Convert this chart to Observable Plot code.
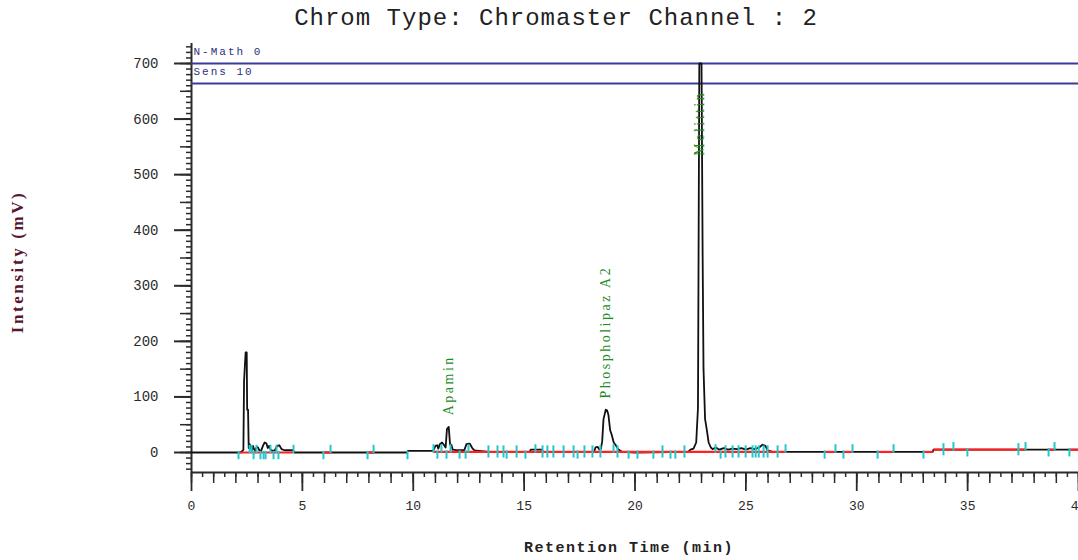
<!DOCTYPE html>
<html>
<head>
<meta charset="utf-8">
<script src="https://cdn.jsdelivr.net/npm/d3@7"></script>
<script src="https://cdn.jsdelivr.net/npm/@observablehq/plot@0.6"></script>
<style>
  body { margin: 0; background: #fff; }
  #wrap { position: relative; width: 1078px; height: 560px; overflow: hidden; background: #fff; }
  #title { position: absolute; top: 5px; left: 0; width: 1112px; text-align: center;
           font: 24px "Liberation Mono", "DejaVu Sans Mono", monospace; letter-spacing: 1px; color: #222; white-space: pre; }
  #ylab { position: absolute; left: 18px; top: 262px; transform: translate(-50%, -50%) rotate(-90deg);
          font: bold 17px "Liberation Serif", serif; letter-spacing: 2.6px; color: #561630; white-space: pre; }
  #xlab { position: absolute; left: 629px; top: 548px; transform: translate(-50%, -50%);
          font: bold 15px "Liberation Mono", monospace; letter-spacing: 1.5px; color: #222; white-space: pre; }
  #chart { position: absolute; left: 0; top: 0; }
</style>
</head>
<body>
<div id="wrap">
  <div id="chart"></div>
  <div id="title">Chrom Type: Chromaster Channel : 2</div>
  <div id="ylab">Intensity (mV)</div>
  <div id="xlab">Retention Time (min)</div>
</div>
<script>
// ---- Data ----
// Chromatogram signal (retention time in min, intensity in mV)
const sigTime = [0, 2.20, 2.30, 2.34, 2.37, 2.44, 2.49, 2.51, 2.55, 2.58, 2.62, 2.68, 2.72, 2.77, 2.82, 2.88, 2.94, 3.00, 3.06, 3.14,
  3.22, 3.30, 3.38, 3.44, 3.50, 3.57, 3.66, 3.76, 3.86, 3.96, 4.06, 4.20, 4.58, 4.64, 9.72, 9.76, 10.90, 11.00, 11.08, 11.13,
  11.20, 11.30, 11.38, 11.46, 11.52, 11.60, 11.66, 11.72, 11.78, 12.00, 12.30, 12.40, 12.55, 12.66, 12.76, 13.40, 15.25, 15.30,
  15.80, 15.86, 18.15, 18.22, 18.32, 18.40, 18.46, 18.52, 18.58, 18.68, 18.74, 18.80, 18.88, 18.95, 19.04, 19.12, 19.24, 19.42,
  20.00, 22.40, 22.50, 22.64, 22.76, 22.84, 22.90, 23.00, 23.05, 23.09, 23.16, 23.23, 23.32, 23.42, 23.50, 23.65, 23.80, 24.00,
  24.20, 24.40, 24.60, 24.80, 25.00, 25.20, 25.40, 25.60, 25.75, 25.88, 25.98, 26.20, 33.42, 33.46, 40];
const sigValue = [0, 0, 3, 5, 128, 180, 180, 77, 77, 8, 15, 8, 4, 12, 6, 3, 10, 9, 4, 3,
  12, 18, 16, 8, 12, 5, 3, 4, 12, 13, 6, 4, 4, 0, 0, 3, 3, 12, 13, 7,
  15, 18, 14, 9, 42, 46, 14, 14, 5, 4, 4, 15, 16, 8, 4, 1, 1, 5,
  5, 1, 1, 9, 10, 5, 6, 20, 60, 77, 76, 68, 40, 32, 18, 14, 6, 1,
  0, 1, 5, 7, 18, 80, 700, 700, 355, 150, 60, 43, 18, 9, 6, 9, 5, 8,
  5, 7, 6, 8, 5, 8, 6, 9, 14, 12, 4, 1, 1, 5, 5];

// Integration baselines (red)
const baseStart = [2.10, 5.90, 7.90, 10.90, 28.55, 29.40, 30.94, 33.01, 33.46, 38.65, 39.59];
const baseEnd   = [4.60, 6.30, 8.25, 26.80, 29.04, 29.81, 31.66, 33.45, 37.61, 38.92, 40.00];
const baseValue = [0, 0, 0, 1, 1, 1, 1, 1, 5, 5, 5];

// Peak start / end event marks (cyan): time and side (1 above, -1 below, 0 across)
const markTime = [2.12, 2.62, 2.71, 2.80, 2.93, 3.11, 3.25, 3.34, 3.56, 3.70, 3.83, 3.92, 4.60, 5.95, 6.27, 7.94, 8.21, 9.74,
  10.91, 11.09, 11.27, 11.50, 11.68, 12.09, 12.36, 12.49, 13.39,
  13.80, 14.07, 14.21, 14.66, 15.06, 15.51, 15.83, 16.05, 16.32, 16.78, 17.23, 17.41, 17.72, 18.08, 18.44, 19.03, 19.21,
  19.71, 20.11, 20.83, 21.24, 21.60, 21.82, 22.23, 23.63, 23.86, 24.08, 24.40, 24.67, 24.99, 25.30, 25.44, 25.58, 25.80, 25.98,
  26.43, 26.79, 28.55, 29.04, 29.40, 29.81, 30.94, 31.66, 33.01, 33.91, 34.36, 34.99, 37.29, 37.61, 38.65, 38.92, 39.59];
const markSide = [-1, 1, 1, -1, 1, -1, -1, -1, 1, -1, 1, -1, 1, -1, 1, -1, 1, -1,
  1, -1, 1, -1, 1, -1, -1, 1, 0,
  0, 0, -1, 0, -1, 1, 0, 0, 0, 0, 0, -1, 0, 0, 0, 1, 0,
  -1, -1, -1, 0, -1, -1, 0, 1, -1, 0, 0, 0, 0, 0, 0, 0, 0, 0,
  0, 1, -1, 1, -1, 1, -1, 1, -1, 0, 1, -1, 0, 1, -1, 1, -1];

// Peak names
const peakNames = ["Apamin", "Phospholipaz A2", "Melittin"];
const peakLabelTime = [11.59, 18.67, 22.93];
const peakLabelValue = [67, 97, 534];

// Header lines
const infoText = ["N-Math 0", "Sens 10"];
const infoValue = [700, 664];

// Axis ticks
const yTickMajor = d3.range(0, 701, 100);
const yTickMid = d3.range(-50, 736, 50).filter(v => v >= -36);
const yTickMinor = d3.range(-30, 736, 10);
const xTickMajor = d3.range(0, 41, 5);
const xTickMid = d3.range(0, 41, 1);
const xTickMinor = d3.range(0, 40.01, 0.5);

// ---- Build tables ----
const signal = sigTime.map((t, i) => ({t, v: sigValue[i]}));
const baselines = baseStart.map((s, i) => ({s, e: baseEnd[i], v: baseValue[i]}));
const levelAt = t => t > 33.45 ? 5 : (t > 10.8 ? 1 : 0);
const marks = markTime.map((t, i) => {
  const b = levelAt(t), s = markSide[i];
  return {t, lo: s === 1 ? b - 2 : (s === -1 ? b - 13 : b - 11), hi: s === 1 ? b + 13 : (s === -1 ? b + 2 : b + 11)};
});
const peaks = peakNames.map((n, i) => ({n, t: peakLabelTime[i], v: peakLabelValue[i]}));
const info = infoText.map((s, i) => ({s, v: infoValue[i]}));

const axisStroke = "#2a2a2a";
const plot = Plot.plot({
  width: 1078,
  height: 560,
  marginLeft: 191,
  marginRight: 0,
  marginTop: 43,
  marginBottom: 88,
  x: {domain: [0, 40], label: null},
  y: {domain: [-36, 736], label: null},
  style: {background: "transparent", fontFamily: "'Liberation Mono', monospace", overflow: "visible"},
  marks: [
    // y axis ticks
    Plot.axisY(yTickMinor, {tickSize: 5, tickFormat: () => "", stroke: axisStroke, strokeWidth: 1.5, label: null}),
    Plot.axisY(yTickMid, {tickSize: 11, tickFormat: () => "", stroke: axisStroke, strokeWidth: 1.5, label: null}),
    Plot.axisY(yTickMajor, {tickSize: 17, tickPadding: 16, fontSize: 14, fill: "#2a2a2a", stroke: axisStroke, strokeWidth: 2, label: null}),
    // x axis ticks
    Plot.axisX(xTickMinor, {tickSize: 5, tickFormat: () => "", stroke: axisStroke, strokeWidth: 1.5, label: null}),
    Plot.axisX(xTickMid, {tickSize: 11, tickFormat: () => "", stroke: axisStroke, strokeWidth: 1.5, label: null}),
    Plot.axisX(xTickMajor, {tickSize: 19, tickPadding: 9, fontSize: 13, fill: "#2a2a2a", stroke: axisStroke, strokeWidth: 1.8, label: null}),
    // axis lines
    Plot.ruleX([0], {y1: -36, y2: 736, stroke: axisStroke, strokeWidth: 2}),
    Plot.ruleY([-36], {stroke: axisStroke, strokeWidth: 2}),
    // header lines
    Plot.ruleY(infoValue, {stroke: "#3a3a9c", strokeWidth: 2}),
    Plot.text(info, {x: 0, y: "v", text: "s", dx: 2, dy: -12, textAnchor: "start", fill: "#2e2e80",
      fontSize: 11, fontFamily: "'Liberation Mono', monospace"}),
    // signal
    Plot.line(signal, {x: "t", y: "v", stroke: "#111", strokeWidth: 1.8}),
    // baselines
    Plot.link(baselines, {x1: "s", x2: "e", y1: "v", y2: "v", stroke: "#ff2020", strokeWidth: 2.2}),
    // event marks
    Plot.ruleX(marks, {x: "t", y1: "lo", y2: "hi", stroke: "#22c8cc", strokeWidth: 2}),
    // peak labels
    Plot.text(peaks, {x: "t", y: "v", text: "n", rotate: -90, textAnchor: "start", fill: "#1e8c1e",
      fontSize: 14, fontFamily: "'Liberation Serif', serif"})
  ]
});
const svg = d3.select(plot);
svg.selectAll("text").filter(function () { return peakNames.includes(this.textContent); })
  .attr("letter-spacing", "2.5px");
svg.selectAll("text").filter(function () { return infoText.includes(this.textContent); })
  .attr("letter-spacing", "2px");
document.getElementById("chart").appendChild(plot);
</script>
</body>
</html>
